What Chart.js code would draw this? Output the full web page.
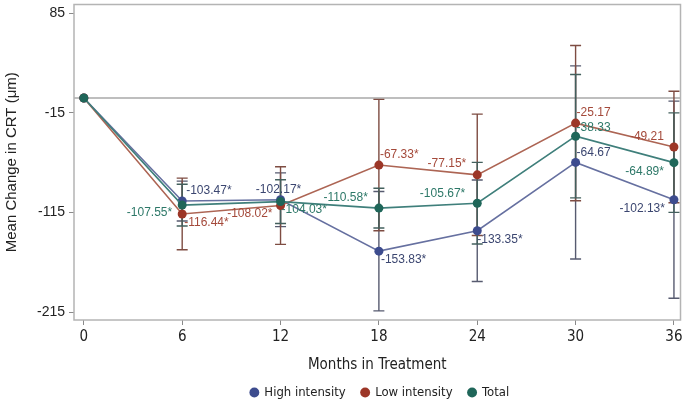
<!DOCTYPE html>
<html>
<head>
<meta charset="utf-8">
<script src="https://cdn.jsdelivr.net/npm/chart.js@4.4.1/dist/chart.umd.min.js"></script>
<style>
  html, body { margin: 0; padding: 0; background: #fff; }
  #wrap { width: 685px; height: 405px; }
</style>
</head>
<body>
<div id="wrap"><canvas id="chart" width="685" height="405"></canvas></div>
<script>
// months on the x axis
const months = [0, 6, 12, 18, 24, 30, 36]
const yTicks = [85, -15, -115, -215]

// mean change in CRT per group
const highIntensity = [0, -103.47, -102.17, -153.83, -133.35, -64.67, -102.13]
const lowIntensity = [0, -116.44, -108.02, -67.33, -77.15, -25.17, -49.21]
const total = [0, -107.55, -104.03, -110.58, -105.67, -38.33, -64.89]

// half-length of error bars
const highErr = [0, 20, 27, 60, 51, 97, 99]
const lowErr = [0, 36, 39, 66, 61, 78, 56]
const totalErr = [0, 21, 22, 20, 41, 62, 50]

// point labels
const highLabels = ['', '-103.47*', '-102.17*', '-153.83*', '-133.35*', '-64.67', '-102.13*']
const lowLabels = ['', '-116.44*', '-108.02*', '-67.33*', '-77.15*', '-25.17', '-49.21']
const totalLabels = ['', '-107.55*', '-104.03*', '-110.58*', '-105.67*', '-38.33', '-64.89*']

// where each label sits next to its point: [align, dx, dy]
const highPlace = [null, ['left', 4, -10], ['center', -2, -10], ['left', 2, 9], ['left', 0, 9], ['left', 1, -10], ['right', -9, 9]]
const lowPlace = [null, ['left', 2, 9], ['right', -8, 8], ['left', 1, -10], ['right', -11, -11], ['left', 1, -10], ['right', -10, -10]]
const totalPlace = [null, ['right', -10, 8], ['left', 1, 8], ['right', -11, -10], ['right', -12, -10], ['left', 1, -9], ['right', -10, 9]]

const NARROW = '"Liberation Sans Narrow", "DejaVu Sans Condensed", "Liberation Sans", Arial, sans-serif'
const SANS = '"Liberation Sans", Arial, sans-serif'

const toPoints = values => months.map((m, i) => ({ x: m, y: values[i] }))

const series = [
  { label: 'High intensity', values: highIntensity, err: highErr, labels: highLabels, place: highPlace,
    point: '#3d4c8e', line: '#6670a0', bar: '#575b70', text: '#3b4670', order: 2 },
  { label: 'Low intensity', values: lowIntensity, err: lowErr, labels: lowLabels, place: lowPlace,
    point: '#9c3627', line: '#ad6554', bar: '#7e4c42', text: '#a4493a', order: 1 },
  { label: 'Total', values: total, err: totalErr, labels: totalLabels, place: totalPlace,
    point: '#1f6659', line: '#3f7f7b', bar: '#43605d', text: '#2d7868', order: 0 }
]

const framePlugin = {
  id: 'frame',
  afterLayout(chart) {
    // legend is centred under the plot, not the whole canvas
    chart.legend.left += 39
    chart.legend.right += 39
  },
  beforeDatasetsDraw(chart) {
    const { ctx, chartArea: a, scales } = chart
    ctx.save()
    // zero reference line
    const y0 = scales.y.getPixelForValue(0)
    ctx.strokeStyle = '#a8a8a8'
    ctx.lineWidth = 1.5
    ctx.beginPath()
    ctx.moveTo(a.left, y0)
    ctx.lineTo(a.right, y0)
    ctx.stroke()
    // box round the plot
    ctx.strokeStyle = '#b4b4b4'
    ctx.strokeRect(a.left, a.top, a.right - a.left, a.bottom - a.top)
    // error bars
    series.forEach(s => {
      ctx.strokeStyle = s.bar
      ctx.lineWidth = 1.4
      s.values.forEach((v, i) => {
        if (!s.err[i]) return
        const x = scales.x.getPixelForValue(months[i])
        const yt = scales.y.getPixelForValue(v + s.err[i])
        const yb = scales.y.getPixelForValue(v - s.err[i])
        ctx.beginPath()
        ctx.moveTo(x, yt); ctx.lineTo(x, yb)
        ctx.moveTo(x - 5.5, yt); ctx.lineTo(x + 5.5, yt)
        ctx.moveTo(x - 5.5, yb); ctx.lineTo(x + 5.5, yb)
        ctx.stroke()
      })
    })
    ctx.restore()
  }
}

const labelPlugin = {
  id: 'pointLabels',
  afterDatasetsDraw(chart) {
    const { ctx, scales } = chart
    ctx.save()
    ctx.font = '12px ' + SANS
    ctx.textBaseline = 'middle'
    series.forEach(s => {
      ctx.fillStyle = s.text
      s.labels.forEach((t, i) => {
        if (!t) return
        const [align, dx, dy] = s.place[i]
        ctx.textAlign = align
        ctx.fillText(t, scales.x.getPixelForValue(months[i]) + dx, scales.y.getPixelForValue(s.values[i]) + dy)
      })
    })
    ctx.restore()
  }
}

new Chart(document.getElementById('chart'), {
  type: 'line',
  data: {
    datasets: series.map(s => ({
      label: s.label,
      data: toPoints(s.values),
      borderColor: s.line,
      backgroundColor: s.point,
      pointBackgroundColor: s.point,
      pointBorderColor: s.point,
      pointBorderWidth: 0,
      pointRadius: 4.5,
      borderWidth: 1.6,
      order: s.order
    }))
  },
  options: {
    responsive: false,
    animation: false,
    devicePixelRatio: 1,
    layout: { padding: { top: 3, right: 3, left: 0, bottom: -4 } },
    scales: {
      x: {
        type: 'linear',
        min: -0.6,
        max: 36.4,
        afterBuildTicks: scale => { scale.ticks = months.map(v => ({ value: v })) },
        afterFit: scale => { scale.height = 50; scale.paddingLeft = 0; scale.paddingRight = 0 },
        grid: { display: true, drawOnChartArea: false, drawTicks: true, tickLength: 5, color: '#8a8a8a' },
        border: { display: false },
        ticks: { color: '#222', padding: 3, font: { family: NARROW, size: 15 } },
        title: { display: true, text: 'Months in Treatment', color: '#222', padding: { top: 0, bottom: -4 },
          font: { family: NARROW, size: 15 } }
      },
      y: {
        type: 'linear',
        min: -223,
        max: 94,
        afterBuildTicks: scale => { scale.ticks = yTicks.map(v => ({ value: v })) },
        afterFit: scale => { scale.width = 74; scale.paddingTop = 0; scale.paddingBottom = 0 },
        grid: { display: true, drawOnChartArea: false, drawTicks: true, tickLength: 5, color: '#8a8a8a' },
        border: { display: false },
        ticks: { color: '#222', padding: 4, font: { family: SANS, size: 14 } },
        title: { display: true, text: 'Mean Change in CRT (μm)', color: '#222', padding: { top: 3, bottom: 0 },
          font: { family: SANS, size: 15 } }
      }
    },
    plugins: {
      tooltip: { enabled: false },
      legend: {
        position: 'bottom',
        labels: {
          usePointStyle: true,
          pointStyle: 'circle',
          boxWidth: 7,
          boxHeight: 7,
          padding: 16,
          color: '#222',
          font: { family: NARROW, size: 13, lineHeight: 1 },
          sort: (a, b) => a.datasetIndex - b.datasetIndex,
          generateLabels: chart => Chart.defaults.plugins.legend.labels.generateLabels(chart).map(item => {
            item.strokeStyle = item.fillStyle
            item.lineWidth = 0
            return item
          })
        }
      }
    }
  },
  plugins: [framePlugin, labelPlugin]
})
</script>
</body>
</html>
